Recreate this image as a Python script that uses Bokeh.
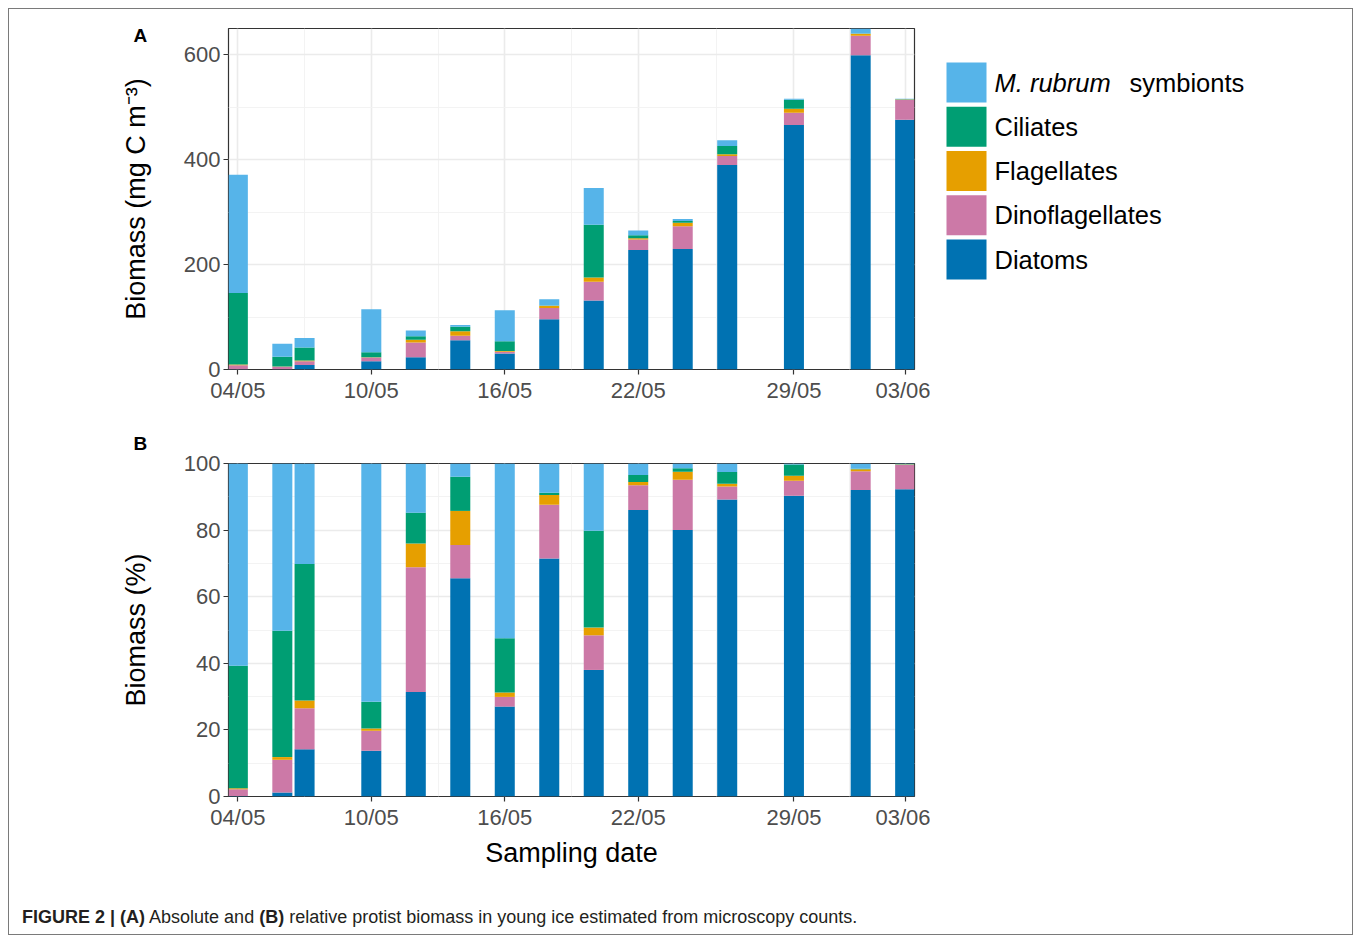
import datetime as dt
from bokeh.plotting import figure
from bokeh.models import ColumnDataSource, FixedTicker, Range1d, Title, Div, Spacer
from bokeh.layouts import column, row
from bokeh.embed import file_html
from bokeh.resources import INLINE
from bokeh.core.properties import value

# ---------------- data ----------------
sampling_dates = ["04/05", "06/05", "07/05", "10/05", "12/05", "14/05", "16/05", "18/05",
                  "20/05", "22/05", "24/05", "26/05", "29/05", "01/06", "03/06"]
diatoms = [0.5, 0.6, 8.5, 15.8, 23.4, 55.7, 30.5, 95.8, 131.5, 228.0, 229.6, 389.8, 466.0, 599.0, 476.0]
dinoflagellates = [7.7, 4.8, 7.4, 6.9, 27.9, 8.5, 3.3, 21.6, 36.0, 19.6, 43.3, 17.0, 23.2, 37.0, 37.5]
flagellates = [1.1, 0.4, 1.4, 0.8, 5.3, 8.7, 1.5, 3.9, 8.0, 2.7, 6.9, 3.5, 7.7, 3.9, 1.0]
ciliates = [136.5, 18.6, 24.6, 9.2, 6.9, 8.7, 18.4, 0.9, 100.6, 5.6, 3.2, 15.7, 17.5, 0.6, 0.5]
m_rubrum = [225.2, 24.6, 18.1, 82.3, 11.0, 3.4, 59.3, 11.8, 69.9, 9.1, 4.0, 11.0, 1.6, 10.5, 1.0]

date_tick_labels = ["04/05", "10/05", "16/05", "22/05", "29/05", "03/06"]
abs_ticks = [0, 200, 400, 600]
pct_ticks = [0, 20, 40, 60, 80, 100]

group_keys = ["diatoms", "dino", "flag", "cil", "mr"]
group_names = ["Diatoms", "Dinoflagellates", "Flagellates", "Ciliates", "M. rubrum symbionts"]
group_colors = ["#0072B2", "#CC79A7", "#E69F00", "#009E73", "#56B4E9"]
group_values = [diatoms, dinoflagellates, flagellates, ciliates, m_rubrum]

FONT = "Liberation Sans"


def to_dt(s):
    return dt.datetime.strptime(s + "/2001", "%d/%m/%Y")


d0 = to_dt(sampling_dates[0])
xs = [(to_dt(s) - d0).days for s in sampling_dates]
tick_pos = [(to_dt(s) - d0).days for s in date_tick_labels]
minor_x = [(a + b) / 2 for a, b in zip(tick_pos[:-1], tick_pos[1:])]

totals = [sum(v) for v in zip(*group_values)]
data = {"x": xs}
for k, vals in zip(group_keys, group_values):
    data[k] = vals
    data["pct_" + k] = [100.0 * v / t for v, t in zip(vals, totals)]
source = ColumnDataSource(data)

PAD = 0.42
x_lo, x_hi = xs[0] - PAD, xs[-1] + PAD


def style_panel(p, yticks, ylabel, xlabel):
    yminor = [(a + b) / 2 for a, b in zip(yticks[:-1], yticks[1:])]
    xt = FixedTicker(ticks=tick_pos, minor_ticks=minor_x)
    yt = FixedTicker(ticks=yticks, minor_ticks=yminor)
    p.xaxis.ticker = xt
    p.yaxis.ticker = yt
    p.xgrid.ticker = xt
    p.ygrid.ticker = yt
    p.xaxis.major_label_overrides = {t: lab for t, lab in zip(tick_pos, date_tick_labels)}
    for g in (p.xgrid[0], p.ygrid[0]):
        g.grid_line_color = "#EBEBEB"
        g.grid_line_width = 1.6
        g.minor_grid_line_color = "#F2F2F2"
        g.minor_grid_line_width = 0.9
    for ax in (p.xaxis[0], p.yaxis[0]):
        ax.axis_line_color = None
        ax.major_tick_line_color = "#333333"
        ax.major_tick_line_width = 1.2
        ax.major_tick_out = 5
        ax.major_tick_in = 0
        ax.minor_tick_line_color = None
        ax.major_label_text_font = FONT
        ax.major_label_text_font_size = "22px"
        ax.major_label_text_color = "#4D4D4D"
        ax.major_label_standoff = 3
        ax.axis_label_text_font = FONT
        ax.axis_label_text_font_size = "27px"
        ax.axis_label_text_font_style = "normal"
        ax.axis_label_text_color = "#000000"
    p.yaxis.axis_label = ylabel
    p.yaxis.axis_label_standoff = 30
    if xlabel:
        p.xaxis.axis_label = xlabel
        p.xaxis.axis_label_standoff = 5
    p.outline_line_color = "#333333"
    p.outline_line_width = 1.2
    p.background_fill_color = "white"
    p.border_fill_color = "white"


def panel_tag(text, standoff):
    return Title(text=text, align="left", offset=-95, standoff=standoff,
                 text_font=FONT, text_font_style="bold", text_font_size="19px",
                 text_color="#000000")


# ---------------- panel A ----------------
A_TOP, A_BOT = 19, 51
pA = figure(width=921, height=411, output_backend="svg", toolbar_location=None,
            x_range=Range1d(x_lo, x_hi), y_range=Range1d(0, 650),
            min_border_left=219, min_border_right=16, min_border_top=A_TOP, min_border_bottom=A_BOT)
pA.vbar_stack(group_keys, x="x", width=0.9, color=group_colors, line_color=None, source=source)
style_panel(pA, abs_ticks, "Biomass (mg C m\u207b\u00b3)", None)
pA.add_layout(panel_tag("A", -34), "above")

# ---------------- panel B ----------------
pB = figure(width=921, height=460, output_backend="svg", toolbar_location=None,
            x_range=Range1d(x_lo, x_hi), y_range=Range1d(0, 100),
            min_border_left=219, min_border_right=16, min_border_top=42, min_border_bottom=84)
pB.vbar_stack(["pct_" + k for k in group_keys], x="x", width=0.9, color=group_colors,
              line_color=None, source=source)
style_panel(pB, pct_ticks, "Biomass (%)", "Sampling date")
pB.add_layout(panel_tag("B", 20), "above")

# ---------------- legend ----------------
LW, LH = 422, 411
leg = figure(width=LW, height=LH, output_backend="svg", toolbar_location=None,
             x_range=Range1d(0, LW), y_range=Range1d(LH - A_BOT, A_TOP),
             min_border_left=0, min_border_right=0, min_border_top=A_TOP, min_border_bottom=A_BOT,
             x_axis_location=None, y_axis_location=None)
leg.grid.visible = False
leg.outline_line_color = None
order = list(range(len(group_names)))[::-1]
first_parts, styles, rest_parts = [], [], []
for i in order:
    name = group_names[i]
    if name.startswith("M. rubrum"):
        first_parts.append("M. rubrum")
        styles.append("italic")
        rest_parts.append(name[len("M. rubrum "):])
    else:
        first_parts.append(name)
        styles.append("normal")
        rest_parts.append("")
ly = [73 + 44.25 * j for j in range(len(order))]
lsrc = ColumnDataSource(dict(y=ly, color=[group_colors[i] for i in order],
                             label=first_parts, style=styles))
leg.rect(x=36, y="y", width=40, height=40, fill_color="color", line_color=None, source=lsrc)
leg.text(x=64, y="y", text="label", text_font_style="style", text_baseline="middle",
         text_font=value(FONT), text_font_size="25.5px", text_color="#000000", source=lsrc)
rest_src = ColumnDataSource(dict(y=[y for y, r in zip(ly, rest_parts) if r],
                                 label=[r for r in rest_parts if r]))
leg.text(x=199, y="y", text="label", text_baseline="middle",
         text_font=value(FONT), text_font_size="25.5px", text_color="#000000", source=rest_src)

# ---------------- caption ----------------
caption = Div(text=(
    '<div style="padding:20px 0 0 8px;font-family:\'Liberation Sans Narrow\',\'Liberation Sans\',Arial,sans-serif;'
    'font-size:18px;color:#231F20;white-space:nowrap;">'
    '<b>FIGURE 2 | (A)</b> Absolute and <b>(B)</b> relative protist biomass in young ice '
    'estimated from microscopy counts.</div>'), width=921 + LW, height=44)

inner = column(row(pA, leg), pB, caption, width=921 + LW + 2, sizing_mode="fixed",
               styles={"border": "1px solid #7a7a7a", "background": "white"})
layout = row(Spacer(width=8), column(Spacer(height=8), inner))

open("out.html", "w").write(file_html(layout, INLINE))
